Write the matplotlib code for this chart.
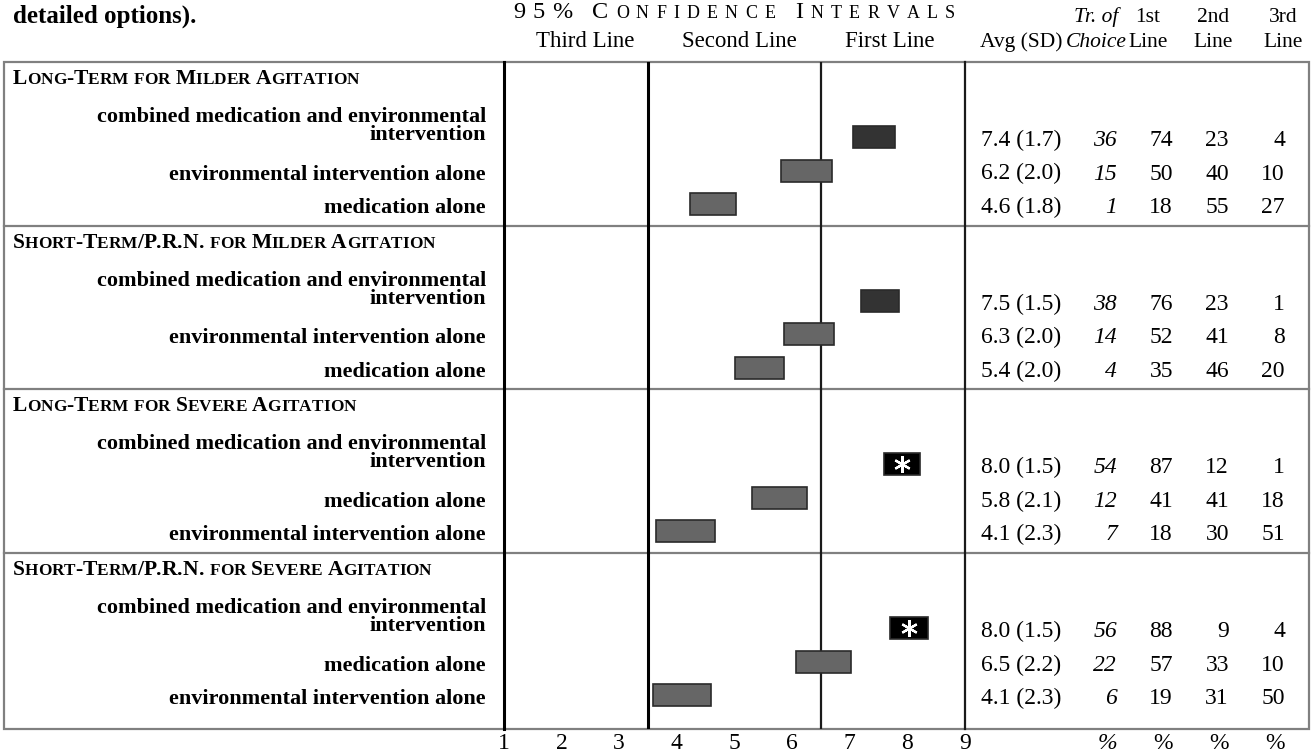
import matplotlib
matplotlib.use("Agg")
import matplotlib.pyplot as plt
from matplotlib.patches import Rectangle

plt.rcParams['font.family'] = ['Liberation Serif', 'DejaVu Serif']

# ---- ratings: one list per scenario, options in the order they are listed ----
scenarios = ["Long-Term for Milder Agitation",
             "Short-Term/P.R.N. for Milder Agitation",
             "Long-Term for Severe Agitation",
             "Short-Term/P.R.N. for Severe Agitation"]

COMBINED = "combined medication and environmental intervention"
ENV = "environmental intervention alone"
MED = "medication alone"
options = [[COMBINED, ENV, MED],
           [COMBINED, ENV, MED],
           [COMBINED, MED, ENV],
           [COMBINED, MED, ENV]]

# 95% confidence interval of the mean rating
ci_low = [[7.05, 5.80, 4.23], [7.20, 5.86, 5.00], [7.59, 5.31, 3.63], [7.69, 6.07, 3.58]]
ci_high = [[7.78, 6.69, 5.03], [7.85, 6.72, 5.86], [8.22, 6.25, 4.66], [8.36, 7.02, 4.59]]

avg = [[7.4, 6.2, 4.6], [7.5, 6.3, 5.4], [8.0, 5.8, 4.1], [8.0, 6.5, 4.1]]
sd = [[1.7, 2.0, 1.8], [1.5, 2.0, 2.0], [1.5, 2.1, 2.3], [1.5, 2.2, 2.3]]
tr_choice = [[36, 15, 1], [38, 14, 4], [54, 12, 7], [56, 22, 6]]
first_line = [[74, 50, 18], [76, 52, 35], [87, 41, 18], [88, 57, 19]]
second_line = [[23, 40, 55], [23, 41, 46], [12, 41, 30], [9, 33, 31]]
third_line = [[4, 10, 27], [1, 8, 20], [1, 18, 51], [4, 10, 50]]

scale_ticks = list(range(1, 10))
line_bounds = [3.5, 6.5]        # third / second / first line cut-offs
line_names = ["Third Line", "Second Line", "First Line"]

# ---- page geometry (pixels, y downwards) ----
W, H = 1315, 753
FL, FR, FT, FB = 4, 1309, 62, 729        # outer frame
X1, X9 = 504, 965                        # where 1 and 9 sit on the scale
SEC_H = 163.7
ROW0, ROW_STEP = 75, 33.5

fig = plt.figure(figsize=(W / 100, H / 100), dpi=100)
page = fig.add_axes([0, 0, 1, 1])
page.set_xlim(0, W)
page.set_ylim(H, 0)
page.axis('off')
renderer = fig.canvas.get_renderer()

ax = fig.add_axes([X1 / W, 1 - FB / H, (X9 - X1) / W, (FB - FT) / H])
ax.set_xlim(1, 9)
ax.set_ylim(FB, FT)
ax.patch.set_alpha(0)
for s in ax.spines.values():
    s.set_visible(False)
ax.set_yticks([])
ax.set_xticks(scale_ticks)
ax.tick_params(axis='x', length=0, pad=3, labelsize=17)


def width_of(s, size, weight='normal'):
    t = page.text(0, 0, s, fontsize=size, fontweight=weight)
    w = t.get_window_extent(renderer).width
    t.remove()
    return w


def advance(ch, size, weight):
    return width_of('I' + ch + 'I', size, weight) - width_of('II', size, weight)


def caps_width(s, size, weight='normal', ratio=0.76):
    return sum(advance(c.upper(), size * ratio if c.islower() else size, weight) for c in s)


def small_caps(x, y, s, size, weight='normal', ratio=0.76, track=0.0):
    for ch in s:
        fs = size * ratio if ch.islower() else size
        g = ch.upper()
        if g != ' ':
            page.text(x, y, g, fontsize=fs, fontweight=weight, va='baseline', ha='left')
        x += advance(g, fs, weight) + track
    return x


# ---- frame and grid ----
page.add_patch(Rectangle((FL, FT), FR - FL, FB - FT, fill=False, ec='#808080', lw=1.6))
sec_tops = [FT + k * SEC_H for k in range(len(scenarios))]
for y in sec_tops[1:]:
    page.plot([FL, FR], [y, y], color='#808080', lw=1.6)

ax.axvline(1, color='black', lw=2.2, clip_on=False)
ax.axvline(line_bounds[0], color='black', lw=2.2)
ax.axvline(line_bounds[1], color='#1a1a1a', lw=1.6)
ax.axvline(9, color='#1a1a1a', lw=1.6, clip_on=False)

# ---- headers ----
page.text(13, 23, "detailed options).", fontsize=18, fontweight='bold', va='baseline')

title = "95% Confidence Intervals"
natural = caps_width(title, 17.5, ratio=0.74)
track = (442 - natural) / (len(title) - 1)
small_caps(513, 18, title, 17.5, ratio=0.74, track=track)

for name, cx in zip(line_names, [585, 739, 890]):
    page.text(cx, 47, name, fontsize=16.5, ha='center', va='baseline')

HDR = 15.5
page.text(1021, 47, "Avg (SD)", fontsize=HDR, ha='center', va='baseline')
page.text(1096, 22, "Tr. of", fontsize=HDR, style='italic', ha='center', va='baseline')
page.text(1096, 47, "Choice", fontsize=HDR, style='italic', ha='center', va='baseline')
for top, cx in zip(["1st", "2nd", "3rd"], [1148, 1213, 1283]):
    page.text(cx, 22, top, fontsize=HDR, ha='center', va='baseline')
    page.text(cx, 47, "Line", fontsize=HDR, ha='center', va='baseline')

# ---- rows ----
AVG_X = 981
COL_R = [1117, 1173, 1229, 1285]

for k, scen in enumerate(scenarios):
    top = sec_tops[k]
    small_caps(13, top + 22, scen, 15.5, weight='bold', ratio=0.8)
    ys = [top + ROW0 + i * ROW_STEP for i in range(len(options[k]))]
    lows = ci_low[k]
    widths = [h - l for l, h in zip(lows, ci_high[k])]
    colors = []
    for i in range(len(ys)):
        if tr_choice[k][i] >= 50:
            colors.append('black')
        elif lows[i] >= line_bounds[1]:
            colors.append('#333333')
        else:
            colors.append('#666666')
    ax.barh(ys, widths, left=lows, height=22, color=colors,
            edgecolor='#2a2a2a', linewidth=1.2, zorder=3)

    for i, y in enumerate(ys):
        if tr_choice[k][i] >= 50:
            ax.plot(lows[i] + widths[i] / 2, y, marker=(6, 2, 0), ms=12, mew=1.6,
                    color='white', zorder=4)
        label = options[k][i]
        base = y + 9
        if label == COMBINED:
            page.text(486, base - 24, "combined medication and environmental", fontsize=16,
                      fontweight='bold', ha='right', va='baseline')
            page.text(486, base - 6, "intervention", fontsize=16,
                      fontweight='bold', ha='right', va='baseline')
        else:
            page.text(486, base, label, fontsize=16, fontweight='bold', ha='right', va='baseline')

        page.text(AVG_X, base, f"{avg[k][i]:.1f} ({sd[k][i]:.1f})", fontsize=17, va='baseline')
        page.text(COL_R[0], base, str(tr_choice[k][i]), fontsize=17, style='italic',
                  ha='right', va='baseline')
        for col, vals in zip(COL_R[1:], [first_line, second_line, third_line]):
            page.text(col, base, str(vals[k][i]), fontsize=17, ha='right', va='baseline')

# ---- unit row under the table ----
page.text(COL_R[0], 749, "%", fontsize=17, style='italic', ha='right', va='baseline')
for col in COL_R[1:]:
    page.text(col, 749, "%", fontsize=17, ha='right', va='baseline')

fig.savefig("out.png", dpi=100)
